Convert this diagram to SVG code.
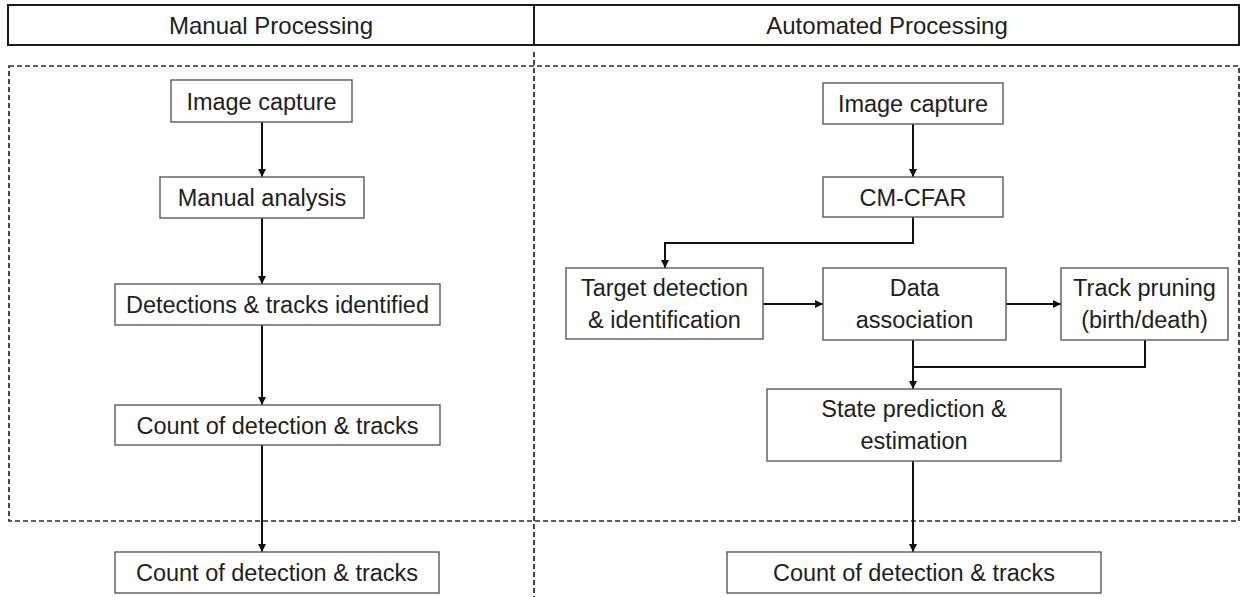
<svg xmlns="http://www.w3.org/2000/svg" width="1242" height="597" viewBox="0 0 1242 597">
<defs>
<style>
.box{fill:#fff;stroke:#5a5a5a;stroke-width:1.4}
.hdr{fill:#fff;stroke:#1a1a1a;stroke-width:2}
.t{font-family:"Liberation Sans",Arial,sans-serif;font-size:23.5px;fill:#1e1e1e;text-anchor:middle}
.ht{font-family:"Liberation Sans",Arial,sans-serif;font-size:24px;fill:#1e1e1e;text-anchor:middle}
.dash{fill:none;stroke:#2a2a2a;stroke-width:1.7;stroke-dasharray:5 3}
.c{fill:none;stroke:#111;stroke-width:2}
</style>
<marker id="ah" viewBox="0 0 10 10" refX="10" refY="5" markerWidth="8" markerHeight="8" markerUnits="userSpaceOnUse" orient="auto">
<path d="M0,0 L10,5 L0,10 z" fill="#111"/>
</marker>
</defs>
<rect width="1242" height="597" fill="#fff"/>

<g id="header">
<rect class="hdr" x="8" y="5" width="1231" height="40"/>
<line x1="534" y1="5" x2="534" y2="45" stroke="#1a1a1a" stroke-width="2"/>
<text class="ht" x="271" y="33.5">Manual Processing</text>
<text class="ht" x="887" y="33.5">Automated Processing</text>
</g>

<g id="frame">
<rect class="dash" x="9" y="66" width="1230" height="455"/>
<line class="dash" x1="534" y1="52" x2="534" y2="597"/>
</g>

<g id="connectors">
<line class="c" x1="262" y1="122" x2="262" y2="177" marker-end="url(#ah)"/>
<line class="c" x1="262" y1="218" x2="262" y2="284" marker-end="url(#ah)"/>
<line class="c" x1="262" y1="325" x2="262" y2="405" marker-end="url(#ah)"/>
<line class="c" x1="262" y1="445" x2="262" y2="552" marker-end="url(#ah)"/>
<line class="c" x1="913" y1="124" x2="913" y2="177" marker-end="url(#ah)"/>
<polyline class="c" points="913,217 913,243 665,243 665,268" marker-end="url(#ah)"/>
<line class="c" x1="763" y1="304" x2="823" y2="304" marker-end="url(#ah)"/>
<line class="c" x1="1006" y1="304" x2="1061" y2="304" marker-end="url(#ah)"/>
<line class="c" x1="913" y1="340" x2="913" y2="389" marker-end="url(#ah)"/>
<polyline class="c" points="1145,340 1145,367 913,367"/>
<line class="c" x1="913" y1="461" x2="913" y2="552" marker-end="url(#ah)"/>
</g>

<g id="m-image-capture">
<rect class="box" x="171" y="80" width="181" height="42"/>
<text class="t" x="261.5" y="109.5">Image capture</text>
</g>
<g id="m-manual-analysis">
<rect class="box" x="160" y="177" width="204" height="41"/>
<text class="t" x="262" y="205.5">Manual analysis</text>
</g>
<g id="m-detections">
<rect class="box" x="115" y="284" width="325" height="41"/>
<text class="t" x="277.5" y="312.5">Detections &amp; tracks identified</text>
</g>
<g id="m-count">
<rect class="box" x="115" y="405" width="325" height="40"/>
<text class="t" x="277.5" y="433.5">Count of detection &amp; tracks</text>
</g>
<g id="m-count-out">
<rect class="box" x="115" y="552" width="324" height="41"/>
<text class="t" x="277" y="580.5">Count of detection &amp; tracks</text>
</g>

<g id="a-image-capture">
<rect class="box" x="823" y="83" width="180" height="41"/>
<text class="t" x="913" y="111.5">Image capture</text>
</g>
<g id="a-cmcfar">
<rect class="box" x="823" y="177" width="180" height="40"/>
<text class="t" x="913" y="205.5">CM-CFAR</text>
</g>
<g id="a-target">
<rect class="box" x="566" y="268" width="197" height="71"/>
<text class="t" x="664.5" y="295.5">Target detection</text>
<text class="t" x="664.5" y="328">&amp; identification</text>
</g>
<g id="a-data">
<rect class="box" x="823" y="268" width="183" height="72"/>
<text class="t" x="914.5" y="295.5">Data</text>
<text class="t" x="914.5" y="328">association</text>
</g>
<g id="a-track">
<rect class="box" x="1061" y="268" width="167" height="72"/>
<text class="t" x="1144.5" y="295.5">Track pruning</text>
<text class="t" x="1144.5" y="328">(birth/death)</text>
</g>
<g id="a-state">
<rect class="box" x="767" y="389" width="294" height="72"/>
<text class="t" x="914" y="416.5">State prediction &amp;</text>
<text class="t" x="914" y="449">estimation</text>
</g>
<g id="a-count-out">
<rect class="box" x="727" y="552" width="374" height="41"/>
<text class="t" x="914" y="580.5">Count of detection &amp; tracks</text>
</g>
</svg>
